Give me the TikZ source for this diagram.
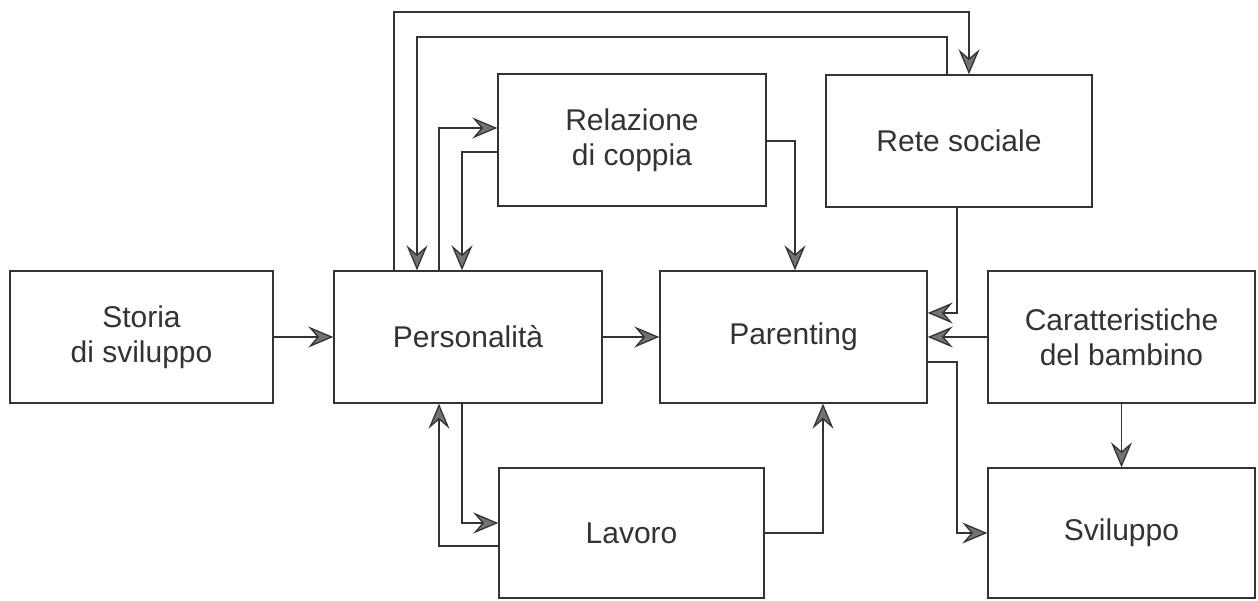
\documentclass[tikz,border=0pt]{standalone}
\usepackage{fontspec}
\setmainfont{Liberation Sans}
\usetikzlibrary{arrows.meta}
\tikzset{
  box/.style={draw=black!80, line width=1.4pt, rectangle, inner sep=0pt, align=center,
    font=\fontsize{30}{35}\selectfont, text=black!80},
  arr/.style={draw=black!80, line width=1.3pt,
    -{Stealth[length=25pt,width=21pt,inset=9pt,fill=black!55]}}
}
\begin{document}
\begin{tikzpicture}[x=1pt,y=-1pt]
\useasboundingbox (0,0) rectangle (1258,601);
% boxes
\node[box, minimum width=263pt, minimum height=132pt] (storia) at (141.5,337) {Storia\\di sviluppo};
\node[box, minimum width=268pt, minimum height=132pt] (pers) at (468,337) {Personalità};
\node[box, minimum width=267pt, minimum height=132pt] (par) at (793.5,337) {Parenting};
\node[box, minimum width=268pt, minimum height=132pt] (rel) at (632,140) {Relazione\\di coppia};
\node[box, minimum width=266pt, minimum height=132pt] (rete) at (959,141) {Rete sociale};
\node[box, minimum width=267pt, minimum height=132pt] (car) at (1121.5,337) {Caratteristiche\\del bambino};
\node[box, minimum width=265pt, minimum height=130pt] (lav) at (631.5,533) {Lavoro};
\node[box, minimum width=267pt, minimum height=130pt] (svi) at (1121.5,533) {Sviluppo};
% turn points
\coordinate (o1) at (394,12);
\coordinate (o2) at (969,12);
\coordinate (s1) at (947,37);
\coordinate (s2) at (417,37);
\coordinate (r1) at (439,128);
\coordinate (r2) at (462,152);
\coordinate (r3) at (795,141);
\coordinate (n1) at (957,313);
\coordinate (d1) at (957,362);
\coordinate (d2) at (957,533);
\coordinate (l1) at (462,523);
\coordinate (l2) at (439,546);
\coordinate (l3) at (823,533);
% connectors
\draw[arr] (storia.east) -- (pers.west);
\draw[arr] (pers.east) -- (par.west);
\draw[arr] (pers.north -| o1) -- (o1) -- (o2) -- (rete.north -| o2);
\draw[arr] (rete.north -| s1) -- (s1) -- (s2) -- (pers.north -| s2);
\draw[arr] (pers.north -| r1) -- (r1) -- (rel.west |- r1);
\draw[arr] (rel.west |- r2) -- (r2) -- (pers.north -| r2);
\draw[arr] (rel.east |- r3) -- (r3) -- (par.north -| r3);
\draw[arr] (rete.south -| n1) -- (n1) -- (par.east |- n1);
\draw[arr] (car.west) -- (par.east);
\draw[arr] (par.east |- d1) -- (d1) -- (d2) -- (svi.west |- d2);
\draw[arr] (car.south) -- (svi.north);
\draw[arr] (pers.south -| l1) -- (l1) -- (lav.west |- l1);
\draw[arr] (lav.west |- l2) -- (l2) -- (pers.south -| l2);
\draw[arr] (lav.east |- l3) -- (l3) -- (par.south -| l3);
\end{tikzpicture}
\end{document}
